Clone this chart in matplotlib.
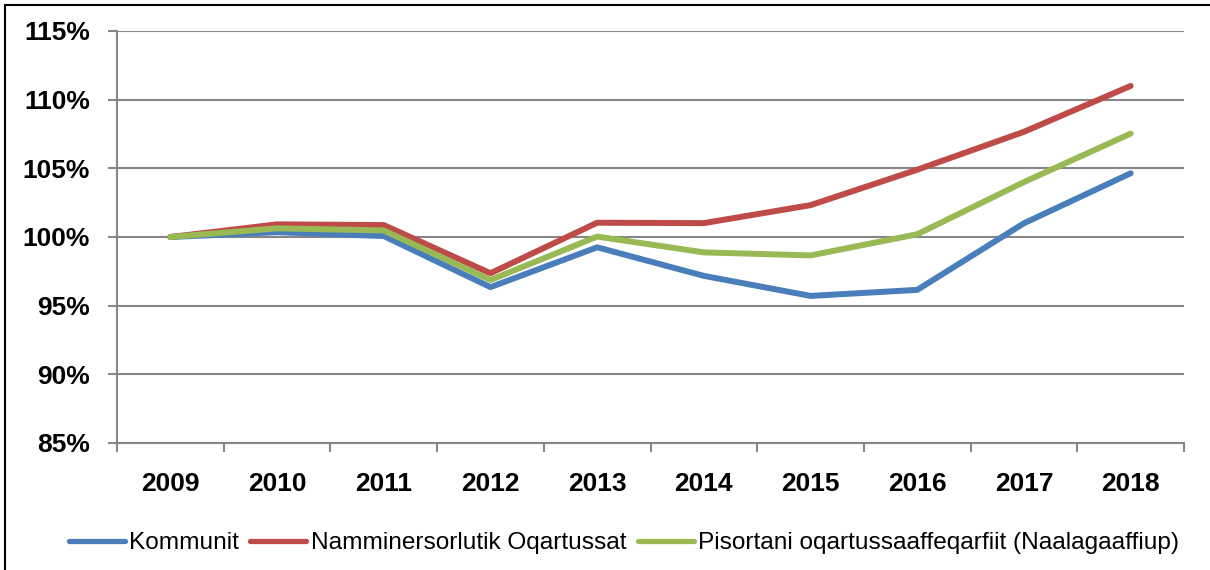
import matplotlib
matplotlib.use("Agg")
import matplotlib.pyplot as plt
from matplotlib import font_manager
from matplotlib.patches import Rectangle

### fonte: Calibri nao existe, usa Liberation Sans (Narrow se tiver)
names = set(f.name for f in font_manager.fontManager.ttflist)
legfont = "Liberation Sans Narrow" if "Liberation Sans Narrow" in names else "Liberation Sans"
plt.rcParams["font.family"] = "Liberation Sans"

### dados
years = ["2009", "2010", "2011", "2012", "2013", "2014", "2015", "2016", "2017", "2018"]
kommunit = [1.000, 1.0035, 1.0007, 0.9635, 0.9925, 0.9717, 0.9571, 0.9615, 1.0100, 1.0464]
namminersorlutik = [1.000, 1.0092, 1.0087, 0.9736, 1.0104, 1.0101, 1.0232, 1.0490, 1.0766, 1.1100]
pisortani = [1.000, 1.0063, 1.0048, 0.9687, 1.0003, 0.9888, 0.9866, 1.0020, 1.0400, 1.0753]
series_names = ["Kommunit", "Namminersorlutik Oqartussat",
                "Pisortani oqartussaaffeqarfiit (Naalagaaffiup)"]
colors = ["#4A7EBB", "#BE4B48", "#98B954"]
yticks = [0.85, 0.90, 0.95, 1.00, 1.05, 1.10, 1.15]

fig = plt.figure(figsize=(12.1, 5.7), dpi=100)
ax = fig.add_axes([117 / 1210, 1 - 443 / 570, (1184 - 117) / 1210, (443 - 31) / 570])

x = list(range(len(years)))
for vals, name, c in zip([kommunit, namminersorlutik, pisortani], series_names, colors):
    ax.plot(x, vals, color=c, lw=4.3, label=name, solid_capstyle="round",
            solid_joinstyle="round")

ax.set_xlim(-0.5, len(years) - 0.5)
ax.set_ylim(0.85, 1.15)
ax.set_yticks(yticks)
ax.set_yticklabels(["%d%%" % round(v * 100) for v in yticks],
                   fontsize=19, fontweight="bold")
ax.yaxis.grid(True, color="#868686", lw=1.5)
ax.set_axisbelow(True)

### ticks entre as categorias, rotulos no meio
ax.set_xticks([i - 0.5 for i in range(len(years) + 1)])
ax.set_xticklabels([])
ax.set_xticks(x, minor=True)
ax.set_xticklabels(years, minor=True, fontsize=19, fontweight="bold")
ax.tick_params(axis="x", which="major", length=6.5, width=1.5, color="#868686", direction="out")
ax.tick_params(axis="x", which="minor", length=0, pad=21)
ax.tick_params(axis="y", length=6.5, width=1.5, color="#868686", pad=13)

for s in ["top", "right"]:
    ax.spines[s].set_visible(False)
for s in ["left", "bottom"]:
    ax.spines[s].set_color("#868686")
    ax.spines[s].set_linewidth(1.5)

leg = fig.legend(loc="center", bbox_to_anchor=(0.5155, 1 - 543 / 570), ncol=3, frameon=False,
                 prop={"family": legfont, "size": 17.6}, handlelength=2.3,
                 handletextpad=0.17, columnspacing=0.47)
for h in leg.get_lines():
    h.set_linewidth(3.8)
    h.set_solid_capstyle("round")

### borda da figura
fig.patches.append(Rectangle((5 / 1210, -0.1), 1.2, 1 - 5 / 570 + 0.1,
                             transform=fig.transFigure, fill=False,
                             edgecolor="black", lw=1.5))

plt.savefig("out.png", dpi=100)
plt.close("all")
